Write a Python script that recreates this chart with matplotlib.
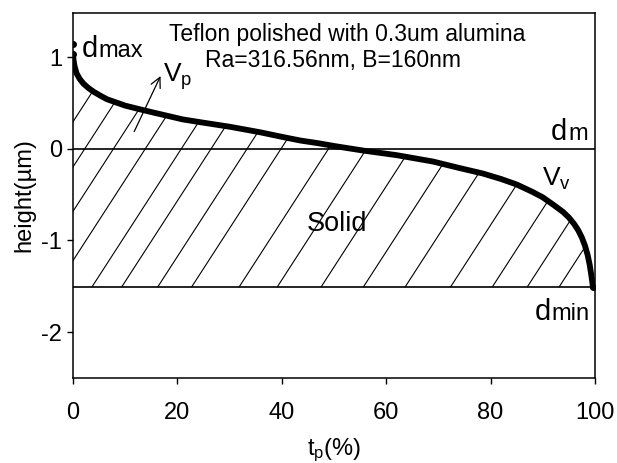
import matplotlib
matplotlib.use('Agg')
import matplotlib.pyplot as plt
import numpy as np

plt.rcParams['font.family'] = ['Liberation Sans', 'DejaVu Sans']
plt.rcParams['mathtext.fontset'] = 'custom'
plt.rcParams['mathtext.rm'] = 'Liberation Sans'
plt.rcParams['mathtext.it'] = 'Liberation Sans'
plt.rcParams['axes.unicode_minus'] = False

# bearing area curve: material ratio tp (%) vs height (um)
tp = [0.0, 0.1, 0.3, 0.7, 1.3, 2.0, 3.0, 4.0, 5.2, 6.5, 8.0, 10.0, 12.8, 15.0,
      18.0, 21.0, 24.3, 30.0, 35.8, 40.0, 43.5, 47.0, 50.0, 55.6, 62.0, 69.0,
      74.0, 78.5, 82.0, 85.0, 88.0, 90.0, 92.0, 93.9, 95.0, 96.0, 96.8, 97.5,
      98.1, 98.6, 99.0, 99.3, 99.5, 99.6]
height = [1.03, 0.97, 0.90, 0.82, 0.76, 0.71, 0.66, 0.62, 0.58, 0.54, 0.51,
          0.47, 0.43, 0.40, 0.36, 0.32, 0.29, 0.24, 0.18, 0.13, 0.09, 0.06,
          0.03, -0.02, -0.07, -0.14, -0.21, -0.27, -0.33, -0.39, -0.47, -0.53,
          -0.61, -0.69, -0.75, -0.82, -0.89, -0.97, -1.06, -1.16, -1.27,
          -1.38, -1.46, -1.51]
d_max = 1.14
d_m = 0.0
d_min = -1.51

# where the hatch strokes meet the d_min line (tp %)
hatch_starts = [-20.5, -14.9, -9.4, -3.3, 3.6, 9.3, 16.2, 22.7, 31.8, 39.1,
                47.5, 55.6, 63.6, 72.3, 80.3, 87.0, 93.1]
hatch_slope = 0.088  # um per %

fig = plt.figure(figsize=(6.17, 4.63), dpi=100)
ax = fig.add_axes([0.1183, 0.1836, 0.846, 0.7883])

tp = np.array(tp)
height = np.array(height)

# solid region below the curve, used only as clip path for the hatching
solid = ax.fill_between(tp, height, d_min, facecolor='none', edgecolor='none')
for t0 in hatch_starts:
    tt = np.array([t0, t0 + 4.0 / hatch_slope])
    hh = d_min + hatch_slope * (tt - t0)
    ln, = ax.plot(tt, hh, color='black', lw=0.8)
    ln.set_clip_path(solid.get_paths()[0], ax.transData)

ax.axhline(d_m, color='black', lw=1.2)
ax.axhline(d_min, color='black', lw=1.2)

ax.plot(tp, height, color='black', lw=4.2, solid_capstyle='round', solid_joinstyle='round')
ax.plot([0, 0], [d_max, height[0]], 'o', color='black', ms=4)
ax.plot([tp[-1]], [d_min], 'o', color='black', ms=4)

ax.set_xlim(0, 100)
ax.set_ylim(-2.5, 1.48)
ax.set_xticks([0, 20, 40, 60, 80, 100])
ax.set_yticks([-2, -1, 0, 1])
ax.tick_params(direction='out', length=4, width=1, labelsize=17, top=False, right=False)
ax.tick_params(axis='x', pad=13)
ax.tick_params(axis='y', pad=4)
for s in ax.spines.values():
    s.set_linewidth(1.1)

ax.set_xlabel(r't$_\mathregular{p}$(%)', fontsize=17, labelpad=9)
ax.set_ylabel('height(\u00b5m)', fontsize=17, labelpad=4)

# annotations
ax.text(52.5, 1.17, 'Teflon polished with 0.3um alumina', fontsize=16.5, ha='center', va='baseline')
ax.text(25.3, 0.89, 'Ra=316.56nm, B=160nm', fontsize=16.5, ha='left', va='baseline')

ax.text(1.6, 1.0, 'd', fontsize=21, va='baseline')
ax.annotate('max', (1.6, 1.0), xytext=(12, 0), textcoords='offset points',
            fontsize=17, va='baseline')

ax.text(98.7, 0.09, 'm', fontsize=17, va='baseline', ha='right')
ax.annotate('d', (98.7, 0.09), xytext=(-15, 0), textcoords='offset points',
            fontsize=21, va='baseline', ha='right')

ax.text(99.0, -1.87, 'min', fontsize=17, va='baseline', ha='right')
ax.annotate('d', (99.0, -1.87), xytext=(-28, 0), textcoords='offset points',
            fontsize=21, va='baseline', ha='right')

ax.text(17.2, 0.73, r'V$_\mathregular{p}$', fontsize=19, va='baseline')
ax.text(89.8, -0.40, r'V$_\mathregular{v}$', fontsize=19, va='baseline')
ax.text(44.8, -0.90, 'Solid', fontsize=19.5, va='baseline')

ax.annotate('', xy=(17.0, 0.82), xytext=(11.5, 0.16),
            arrowprops=dict(arrowstyle='->', lw=0.9, color='black', mutation_scale=18))

fig.savefig('out.png', dpi=100)
